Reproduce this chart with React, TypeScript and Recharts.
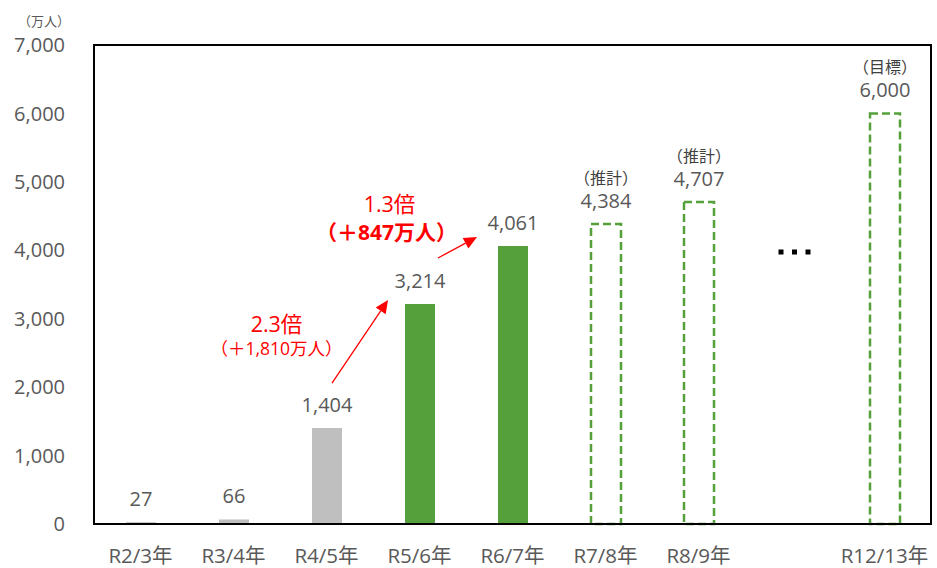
import React from 'react';
import { BarChart, Bar, XAxis, YAxis, LabelList, ReferenceDot, ReferenceArea } from 'recharts';

const categories = ['R2/3年', 'R3/4年', 'R4/5年', 'R5/6年', 'R6/7年', 'R7/8年', 'R8/9年', '', 'R12/13年'];
const pastValues: (number | null)[] = [27, 66, 1404, null, null, null, null, null, null];
const recentValues: (number | null)[] = [null, null, null, 3214, 4061, null, null, null, null];
const plannedValues: (number | null)[] = [null, null, null, null, null, 4384, 4707, null, 6000];
const plannedNotes = ['', '', '', '', '', '（推計）', '（推計）', '', '（目標）'];
const yTicks = [0, 1000, 2000, 3000, 4000, 5000, 6000, 7000];
const unitLabel = '（万人）';
const growth1Ratio = '2.3倍';
const growth1Diff = '（＋1,810万人）';
const growth2Ratio = '1.3倍';
const growth2Diff = '（＋847万人）';
const gapIndex = 7;

const data = categories.map((name, i) => ({
  idx: i,
  name,
  past: pastValues[i],
  recent: recentValues[i],
  planned: plannedValues[i],
}));

const FONT = "'Open Sans', 'Noto Sans CJK JP', sans-serif";
const GREEN = '#55A03B';
const TEXT = '#595959';
const RED = '#FF0000';

const makeLabel = (values: (number | null)[], notes?: string[]) => (props: any) => {
  const { x, y, width } = props;
  let v: any = props.value;
  if (Array.isArray(v)) v = v[1] - v[0];
  if (v == null || Number.isNaN(v)) return null;
  const i = values.indexOf(v);
  if (i < 0) return null;
  const cx = Number(x) + Number(width) / 2;
  const top = Number(y);
  return (
    <g>
      {notes && notes[i] ? (
        <text x={cx} y={top - 40} textAnchor="middle" fontSize={16} fill="#404040" fontFamily={FONT}>
          {notes[i]}
        </text>
      ) : null}
      <text x={cx} y={top - 16} textAnchor="middle" fontSize={20} fill={TEXT} fontFamily={FONT}>
        {(values[i] as number).toLocaleString('en-US')}
      </text>
    </g>
  );
};

const Arrow = ({ x1, y1, x2, y2 }: { x1: number; y1: number; x2: number; y2: number }) => {
  const ang = Math.atan2(y2 - y1, x2 - x1);
  const len = 13;
  const half = 6;
  const bx = x2 - len * Math.cos(ang);
  const by = y2 - len * Math.sin(ang);
  const px = -Math.sin(ang) * half;
  const py = Math.cos(ang) * half;
  return (
    <g>
      <line x1={x1} y1={y1} x2={bx} y2={by} stroke={RED} strokeWidth={1.3} />
      <polygon points={`${x2},${y2} ${bx + px},${by + py} ${bx - px},${by - py}`} fill={RED} />
    </g>
  );
};

const Growth1 = (p: any) => {
  const cx = p.cx, cy = p.cy;
  return (
    <g fontFamily={FONT}>
      <Arrow x1={cx + 5.5} y1={cy} x2={cx + 61.5} y2={cy - 83} />
      <text x={cx - 50} y={cy - 51} textAnchor="middle" fontSize={21.5} fill={RED}>{growth1Ratio}</text>
      <text x={cx - 50} y={cy - 28} textAnchor="middle" fontSize={17.5} fill={RED}>{growth1Diff}</text>
    </g>
  );
};

const Growth2 = (p: any) => {
  const cx = p.cx, cy = p.cy;
  return (
    <g fontFamily={FONT}>
      <Arrow x1={cx + 18.5} y1={cy} x2={cx + 57.5} y2={cy - 21} />
      <text x={cx - 30} y={cy - 46} textAnchor="middle" fontSize={21.5} fill={RED}>{growth2Ratio}</text>
      <text x={cx - 33} y={cy - 18} textAnchor="middle" fontSize={21} fontWeight="bold" fill={RED}>{growth2Diff}</text>
    </g>
  );
};

const Ellipsis = (p: any) => {
  const cx = p.cx + 3, cy = p.cy;
  return (
    <g>
      {[-13.5, 0, 13.5].map((d) => (
        <rect key={d} x={cx + d - 2.5} y={cy - 2.5} width={5} height={5} fill="#000" />
      ))}
    </g>
  );
};

const XTick = (props: any) => {
  const { x, y, payload } = props;
  return (
    <text x={x} y={y + 31} textAnchor="middle" fontSize={20.5} fill={TEXT} fontFamily={FONT}>
      {categories[payload.value]}
    </text>
  );
};

export default function App() {
  return (
    <div style={{ position: 'absolute', left: 0, top: 0, width: 937, height: 568, background: '#fff' }}>
      <div
        style={{
          position: 'absolute',
          left: 14,
          top: 12,
          width: 60,
          textAlign: 'center',
          fontSize: 13,
          color: TEXT,
          fontFamily: FONT,
          lineHeight: '18px',
        }}
      >
        {unitLabel}
      </div>
      <BarChart width={937} height={568} data={data} margin={{ top: 45, right: 6, bottom: 4, left: 0 }} barSize={30}>
        <XAxis
          dataKey="idx"
          type="category"
          axisLine={{ stroke: '#000', strokeWidth: 2 }}
          tickLine={false}
          tick={<XTick />}
          height={40}
          interval={0}
        />
        <YAxis
          domain={[0, 7000]}
          ticks={yTicks}
          width={94}
          tickLine={false}
          tickSize={0}
          tickMargin={29}
          axisLine={{ stroke: '#000', strokeWidth: 2 }}
          tick={{ fontSize: 20, fill: TEXT, fontFamily: FONT }}
          tickFormatter={(v: number) => v.toLocaleString('en-US')}
          interval={0}
        />
        <ReferenceArea
          x1={0}
          x2={categories.length - 1}
          y1={0}
          y2={7000}
          fill="none"
          fillOpacity={0}
          stroke="#000"
          strokeWidth={2}
          strokeOpacity={1}
          ifOverflow="visible"
        />
        <Bar dataKey="past" stackId="s" fill="#BFBFBF" isAnimationActive={false}>
          <LabelList dataKey="past" content={makeLabel(pastValues)} />
        </Bar>
        <Bar dataKey="recent" stackId="s" fill={GREEN} isAnimationActive={false}>
          <LabelList dataKey="recent" content={makeLabel(recentValues)} />
        </Bar>
        <Bar
          dataKey="planned"
          stackId="s"
          fill="none"
          stroke={GREEN}
          strokeWidth={2.5}
          strokeDasharray="8 4"
          isAnimationActive={false}
        >
          <LabelList dataKey="planned" content={makeLabel(plannedValues, plannedNotes)} />
        </Bar>
        <ReferenceDot x={2} y={2060} r={0} shape={Growth1} />
        <ReferenceDot x={3} y={3887} r={0} shape={Growth2} />
        <ReferenceDot x={gapIndex} y={3975} r={0} shape={Ellipsis} />
      </BarChart>
    </div>
  );
}
